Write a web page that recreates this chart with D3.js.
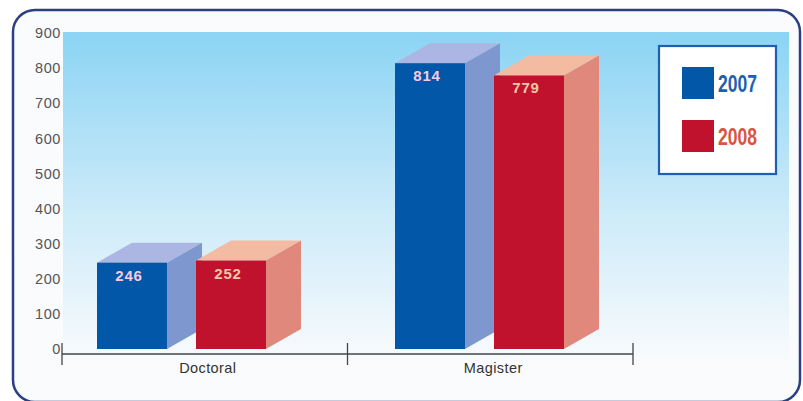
<!DOCTYPE html>
<html>
<head>
<meta charset="utf-8">
<script src="https://cdn.jsdelivr.net/npm/d3@7"></script>
<style>
  html, body { margin: 0; padding: 0; background: #ffffff; }
  svg { display: block; }
</style>
</head>
<body>
<svg id="chart" width="803" height="401"></svg>
<script>
const categories = ["Doctoral", "Magister"];
const series = ["2007", "2008"];
const values2007 = [246, 814];
const values2008 = [252, 779];
const yTicks = [0, 100, 200, 300, 400, 500, 600, 700, 800, 900];

const palette = {
  "2007": { front: "#0257a8", top: "#abb6e2", side: "#7e97cf", label: "#f3cde6", legend: "#1f5fb2" },
  "2008": { front: "#c1122d", top: "#f4bba3", side: "#e0887b", label: "#f3c7a6", legend: "#d9553f" }
};

const svg = d3.select("#chart");
const defs = svg.append("defs");
const grad = defs.append("linearGradient")
  .attr("id", "bg").attr("x1", 0).attr("y1", 0).attr("x2", 0).attr("y2", 1);
grad.append("stop").attr("offset", "0%").attr("stop-color", "#8bd4f4");
grad.append("stop").attr("offset", "55%").attr("stop-color", "#cdebf9");
grad.append("stop").attr("offset", "100%").attr("stop-color", "#f9fbfd");

// outer frame
svg.append("rect")
  .attr("x", 13).attr("y", 10).attr("width", 787).attr("height", 392)
  .attr("rx", 22).attr("ry", 22)
  .attr("fill", "#f9fbfd").attr("stroke", "#2c3f80").attr("stroke-width", 2.5);

// plot background
svg.append("rect")
  .attr("x", 63).attr("y", 32).attr("width", 726).attr("height", 330)
  .attr("fill", "url(#bg)");

const y = d3.scaleLinear().domain([0, 900]).range([349, 33]);
const xAxis = d3.scaleBand().domain(categories).range([62, 633]);
const xBars = d3.scaleBand().domain(categories).range([97, 97 + 2 * 298]);
const xInner = d3.scaleBand().domain(series).range([0, 169]).paddingInner(29 / 99);

// y tick labels
svg.append("g").selectAll("text").data(yTicks).join("text")
  .attr("x", 61).attr("y", d => y(d))
  .attr("dy", "0.36em")
  .attr("text-anchor", "end")
  .attr("font-family", "Liberation Sans, Arial, sans-serif")
  .attr("font-size", 14.5)
  .attr("letter-spacing", 0.6)
  .attr("fill", "#555555")
  .text(d => d);

// x axis line and ticks
const axisY = 354;
const ax = svg.append("g");
ax.append("line")
  .attr("x1", 62).attr("x2", 633).attr("y1", axisY).attr("y2", axisY)
  .attr("stroke", "#444").attr("stroke-width", 1.3);
const tickXs = categories.map(c => xAxis(c)).concat([xAxis(categories[categories.length - 1]) + xAxis.bandwidth()]);
ax.selectAll("line.tick").data(tickXs).join("line")
  .attr("class", "tick")
  .attr("x1", d => d).attr("x2", d => d)
  .attr("y1", 343).attr("y2", 365)
  .attr("stroke", "#444").attr("stroke-width", 1.3);
ax.selectAll("text").data(categories).join("text")
  .attr("x", d => xAxis(d) + xAxis.bandwidth() / 2 + 3)
  .attr("y", 373)
  .attr("text-anchor", "middle")
  .attr("font-family", "Liberation Sans, Arial, sans-serif")
  .attr("font-size", 14.5)
  .attr("letter-spacing", 0.4)
  .attr("fill", "#333333")
  .text(d => d);

// bars
const dx = 35, dz = 20;
const bars = [];
categories.forEach((c, i) => {
  bars.push({ cat: c, s: "2007", v: values2007[i] });
  bars.push({ cat: c, s: "2008", v: values2008[i] });
});

const g = svg.append("g");
bars.forEach(b => {
  const x0 = xBars(b.cat) + xInner(b.s);
  const x1 = x0 + xInner.bandwidth();
  const yt = y(b.v);
  const yb = y(0);
  const col = palette[b.s];
  const bg = g.append("g");
  bg.append("polygon")
    .attr("points", [[x0, yt], [x0 + dx, yt - dz], [x1 + dx, yt - dz], [x1, yt]].map(p => p.join(",")).join(" "))
    .attr("fill", col.top);
  bg.append("polygon")
    .attr("points", [[x1, yt], [x1 + dx, yt - dz], [x1 + dx, yb - dz], [x1, yb]].map(p => p.join(",")).join(" "))
    .attr("fill", col.side);
  bg.append("rect")
    .attr("x", x0).attr("y", yt).attr("width", x1 - x0).attr("height", yb - yt)
    .attr("fill", col.front);
  bg.append("text")
    .attr("x", (x0 + x1) / 2 - 3)
    .attr("y", yt + 18)
    .attr("text-anchor", "middle")
    .attr("font-family", "Liberation Sans, Arial, sans-serif")
    .attr("font-weight", "bold")
    .attr("font-size", 15)
    .attr("letter-spacing", 0.8)
    .attr("fill", col.label)
    .text(b.v);
});

// legend
const lg = svg.append("g");
lg.append("rect")
  .attr("x", 659).attr("y", 46).attr("width", 117).attr("height", 128)
  .attr("fill", "#ffffff").attr("stroke", "#1f5fb2").attr("stroke-width", 2.2);
series.forEach((s, i) => {
  const yy = 67 + i * 53;
  lg.append("rect")
    .attr("x", 682).attr("y", yy).attr("width", 32).attr("height", 32)
    .attr("fill", palette[s].front);
  lg.append("text")
    .attr("x", 718).attr("y", yy + 25)
    .attr("font-family", "Liberation Sans, Arial, sans-serif")
    .attr("font-weight", "bold")
    .attr("font-size", 23)
    .attr("textLength", 39)
    .attr("lengthAdjust", "spacingAndGlyphs")
    .attr("fill", palette[s].legend)
    .text(s);
});
</script>
</body>
</html>
